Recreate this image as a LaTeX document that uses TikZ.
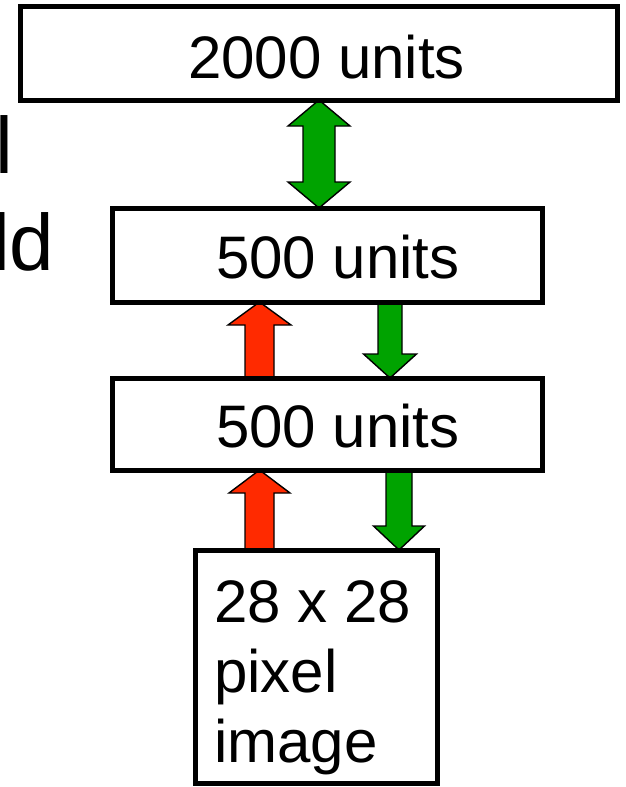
\documentclass[tikz,border=0pt]{standalone}
\usepackage{fontspec}
\setmainfont{Liberation Sans}
\usetikzlibrary{calc,backgrounds}

\definecolor{fwdred}{RGB}{255,42,0}
\definecolor{gengreen}{RGB}{0,163,0}

% block arrow: #1 tail, #2 tip, #3 half shaft width, #4 half head width, #5 head length, #6 fill
\newcommand\blockarrow[6]{%
  \draw[arrowline, fill=#6]
    ($(#1)!#3!90:(#2)$) --
    ($($(#2)!#5!(#1)$)!#3!-90:(#1)$) --
    ($($(#2)!#5!(#1)$)!#4!-90:(#1)$) --
    (#2) --
    ($($(#2)!#5!(#1)$)!#4!90:(#1)$) --
    ($($(#2)!#5!(#1)$)!#3!90:(#1)$) --
    ($(#1)!#3!-90:(#2)$) -- cycle;}

% two-headed block arrow between #1 and #2
\newcommand\dblblockarrow[6]{%
  \draw[arrowline, fill=#6]
    (#1) --
    ($($(#1)!#5!(#2)$)!#4!90:(#2)$) --
    ($($(#1)!#5!(#2)$)!#3!90:(#2)$) --
    ($($(#2)!#5!(#1)$)!#3!-90:(#1)$) --
    ($($(#2)!#5!(#1)$)!#4!-90:(#1)$) --
    (#2) --
    ($($(#2)!#5!(#1)$)!#4!90:(#1)$) --
    ($($(#2)!#5!(#1)$)!#3!90:(#1)$) --
    ($($(#1)!#5!(#2)$)!#3!-90:(#2)$) --
    ($($(#1)!#5!(#2)$)!#4!-90:(#2)$) -- cycle;}

\tikzset{
  layerbox/.style={rectangle, draw=black, line width=5pt, inner sep=0pt, outer sep=0pt},
  arrowline/.style={draw=black, line width=1.4pt, line join=miter},
  bigtext/.style={anchor=base west, inner sep=0pt, font=\fontsize{60}{70}\selectfont},
  sidetext/.style={anchor=base west, inner sep=0pt, font=\fontsize{80}{96}\selectfont},
}

\begin{document}
\begin{tikzpicture}[x=1pt, y=-1pt]
\useasboundingbox (0,0) rectangle (625,787);

% layers of the network
\node[layerbox, minimum width=597pt, minimum height=93.5pt] (top) at (318.5,53.25) {};
\node[layerbox, minimum width=430.5pt, minimum height=94pt] (hidB) at (327.25,255) {};
\node[layerbox, minimum width=430.5pt, minimum height=92pt] (hidA) at (327.25,424) {};
\node[layerbox, minimum width=242pt, minimum height=233pt] (img) at (316,666.5) {};

% labels
\node[bigtext] (ltop) at (188,78) {2000 units};
\node[bigtext] (lhidB) at (216,278) {500 units};
\node[bigtext] (lhidA) at (216,447) {500 units};
\node[bigtext] (limg1) at (214,622) {28 x 28};
\node[bigtext] (limg2) at (214,692) {pixel};
\node[bigtext] (limg3) at (214,762) {image};

% text running off the left edge
\node[sidetext] (side1) at (-5,173) {l};
\node[sidetext] (side2) at (-8,270) {ld};

% connection points on the layer edges
\coordinate (dTop) at (319,0 |- top.south);
\coordinate (dBot) at (319,0 |- hidB.north);
\coordinate (r1tail) at (259.5,0 |- hidA.north);
\coordinate (r1tip)  at (259.5,0 |- hidB.south);
\coordinate (g1tail) at (390,0 |- hidB.south);
\coordinate (g1tip)  at (390,0 |- hidA.north);
\coordinate (r2tail) at (259.5,0 |- img.north);
\coordinate (r2tip)  at (259.5,0 |- hidA.south);
\coordinate (g2tail) at (399,0 |- hidA.south);
\coordinate (g2tip)  at (399,0 |- img.north);

\begin{scope}[on background layer]
  \fill[white] (0,0) rectangle (625,787);
  \dblblockarrow{dTop}{dBot}{16pt}{31pt}{26pt}{gengreen}
  \blockarrow{r1tail}{r1tip}{14.5pt}{31.5pt}{23pt}{fwdred}
  \blockarrow{g1tail}{g1tip}{12pt}{26.5pt}{24pt}{gengreen}
  \blockarrow{r2tail}{r2tip}{14.5pt}{30.5pt}{23pt}{fwdred}
  \blockarrow{g2tail}{g2tip}{13pt}{25.5pt}{24pt}{gengreen}
\end{scope}
\end{tikzpicture}
\end{document}
